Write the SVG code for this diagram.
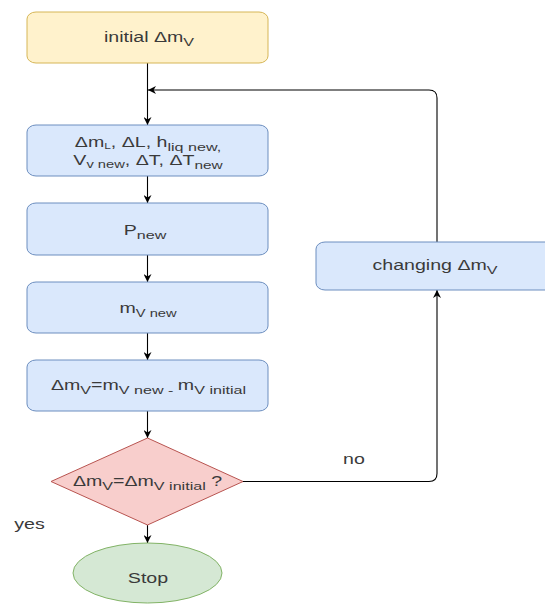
<svg xmlns="http://www.w3.org/2000/svg" width="545" height="606" viewBox="0 0 545 606">
<defs>
<style>
.t{font-family:"Liberation Sans",Arial,sans-serif;font-size:14px;fill:#3a3a3a;text-anchor:middle}
.s{font-size:11.5px}
.blue{fill:#dae8fc;stroke:#6c8ebf;stroke-width:1}
.c{fill:none;stroke:#000;stroke-width:1.1}
</style>
<marker id="ah" viewBox="0 0 10 10" refX="10" refY="5" markerWidth="8" markerHeight="8" markerUnits="userSpaceOnUse" orient="auto">
<path d="M0,0 L10,5 L0,10 L3,5 z" fill="#000"/>
</marker>
</defs>
<rect width="545" height="606" fill="#fff"/>
<g id="connectors">
<path class="c" d="M147.5,63 V125" marker-end="url(#ah)"/>
<path class="c" d="M437,242 V98 Q437,90 429,90 H148" marker-end="url(#ah)"/>
<path class="c" d="M147.5,176 V203" marker-end="url(#ah)"/>
<path class="c" d="M147.5,255 V282" marker-end="url(#ah)"/>
<path class="c" d="M147.5,333 V360" marker-end="url(#ah)"/>
<path class="c" d="M147.5,411 V438" marker-end="url(#ah)"/>
<path class="c" d="M243,481.5 H429 Q437,481.5 437,473.5 V290" marker-end="url(#ah)"/>
<path class="c" d="M147.5,525 V543" marker-end="url(#ah)"/>
</g>
<g id="initial">
<rect x="27" y="12" width="241" height="51" rx="9" ry="7" fill="#fff2cc" stroke="#d6b656"/>
<text class="t" transform="translate(149,42) scale(1.4,1)">initial Δm<tspan class="s" dy="4">V</tspan></text>
</g>
<g id="compute">
<rect class="blue" x="27" y="125" width="241" height="51" rx="9" ry="7"/>
<text class="t" transform="translate(148,146.5) scale(1.4,1)">Δm<tspan font-size="8.5" dy="2">L</tspan><tspan dy="-2">, ΔL, h</tspan><tspan class="s" dy="4">liq new,</tspan></text>
<text class="t" transform="translate(148,164.5) scale(1.4,1)">V<tspan font-size="10.5" dy="3">v new</tspan><tspan dy="-3">, ΔT, ΔT</tspan><tspan font-size="11" dy="4">new</tspan></text>
</g>
<g id="pnew">
<rect class="blue" x="27" y="203" width="241" height="52" rx="9" ry="7"/>
<text class="t" transform="translate(145,235) scale(1.4,1)">P<tspan class="s" dy="4">new</tspan></text>
</g>
<g id="mvnew">
<rect class="blue" x="27" y="282" width="241" height="51" rx="9" ry="7"/>
<text class="t" transform="translate(148,313) scale(1.4,1)">m<tspan font-size="10.5" dy="4">V new</tspan></text>
</g>
<g id="deltam">
<rect class="blue" x="27" y="360" width="241" height="51" rx="9" ry="7"/>
<text class="t" transform="translate(148.5,390) scale(1.4,1)">Δm<tspan class="s" dy="4">V</tspan><tspan dy="-4">=m</tspan><tspan class="s" dy="4">V new - </tspan><tspan dy="-4">m</tspan><tspan class="s" dy="4">V initial</tspan></text>
</g>
<g id="decision">
<polygon points="51,481.5 147.5,438 243,481.5 147.5,525" fill="#f8cecc" stroke="#b85450"/>
<text class="t" transform="translate(147.5,486) scale(1.4,1)">Δm<tspan class="s" dy="4">V</tspan><tspan dy="-4">=Δm</tspan><tspan class="s" dy="4">V initial</tspan><tspan dy="-4"> ?</tspan></text>
</g>
<g id="changing">
<rect class="blue" x="316" y="242" width="242" height="48" rx="9" ry="7"/>
<text class="t" transform="translate(435,270) scale(1.4,1)">changing Δm<tspan class="s" dy="4">V</tspan></text>
</g>
<g id="stop">
<ellipse cx="147.5" cy="573" rx="74.5" ry="30" fill="#d5e8d4" stroke="#82b366"/>
<text class="t" transform="translate(148,583) scale(1.4,1)">Stop</text>
</g>
<g id="labels">
<text class="t" transform="translate(29.5,529) scale(1.4,1)">yes</text>
<text class="t" transform="translate(354,464) scale(1.4,1)">no</text>
</g>
</svg>
